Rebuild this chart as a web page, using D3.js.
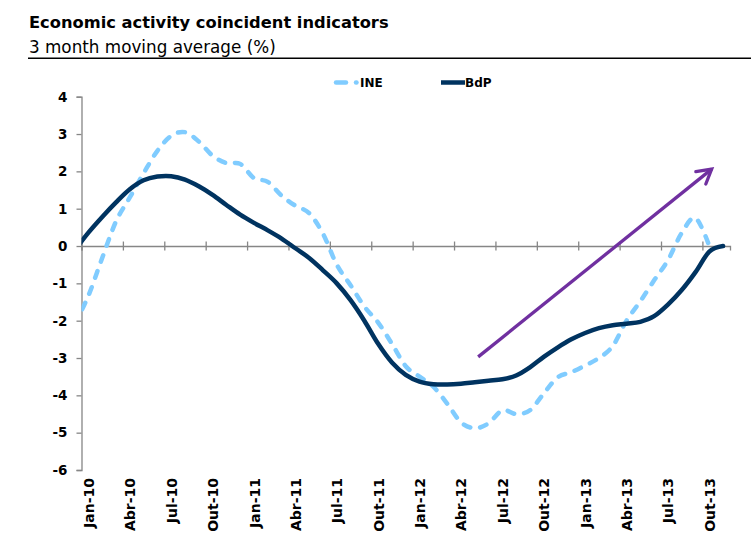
<!DOCTYPE html>
<html>
<head>
<meta charset="utf-8">
<script src="https://cdn.jsdelivr.net/npm/d3@7"></script>
<style>
  body { margin: 0; background: #fff; }
  svg { display: block; font-family: "DejaVu Sans", Verdana, sans-serif; }
</style>
</head>
<body>
<svg id="chart" width="751" height="534"></svg>
<script>
// months Dez-09 .. Nov-13 (Dez-09 only shows as the clipped start of the lines)
const monthNames = ["Jan", "Fev", "Mar", "Abr", "Mai", "Jun", "Jul", "Ago", "Set", "Out", "Nov", "Dez"];
const months = ["Dez-09"];
[10, 11, 12, 13].forEach(yr => monthNames.forEach((m, i) => {
  if (yr === 13 && i > 10) return;
  months.push(m + "-" + yr);
}));

const ine = [
  -2.1,
  -1.33, -0.32, 0.66, 1.3, 1.95, 2.55, 2.95, 3.05, 2.8, 2.42, 2.22, 2.2,
  1.82, 1.72, 1.35, 1.08, 0.88, 0.33, -0.5, -1.05, -1.62, -2.05, -2.62, -3.22,
  -3.5, -3.77, -4.22, -4.72, -4.88, -4.75, -4.4, -4.5, -4.4, -3.95, -3.52, -3.38,
  -3.2, -3.0, -2.68, -2.0, -1.48, -0.92, -0.38, 0.35, 0.75, 0.0, null
];
const bdp = [
  -0.12,
  0.36, 0.78, 1.17, 1.52, 1.76, 1.86, 1.87, 1.78, 1.6, 1.37, 1.1, 0.84,
  0.62, 0.42, 0.2, -0.06, -0.32, -0.65, -1.0, -1.45, -2.0, -2.62, -3.12, -3.45,
  -3.63, -3.7, -3.71, -3.69, -3.65, -3.61, -3.57, -3.47, -3.25, -2.97, -2.72, -2.5,
  -2.33, -2.2, -2.12, -2.08, -2.03, -1.88, -1.57, -1.18, -0.7, -0.15, 0.0
];
const yTicks = [4, 3, 2, 1, 0, -1, -2, -3, -4, -5, -6];
const labelIdx = d3.range(1, 47, 3);          // Jan-10, Abr-10, ... Out-13
const tickIdx = d3.range(0.5, 46, 3);         // category boundaries every quarter
// trend arrow, in (month index, value)
const arrowFrom = [29.25, -2.97];
const arrowTo = [46.17, 2.06];

const svg = d3.select("#chart");
const m = { left: 81.5, right: 730, top: 96.7, bottom: 470 };

const x = d3.scaleLinear().domain([0.5, 47.5]).range([m.left, m.right]);
const y = d3.scaleLinear().domain([-6, 4]).range([m.bottom, m.top]);

// title
svg.append("text")
  .attr("x", 29).attr("y", 28)
  .attr("font-size", 16.3).attr("font-weight", "bold")
  .text("Economic activity coincident indicators");
svg.append("text")
  .attr("x", 29).attr("y", 53)
  .attr("font-size", 16.8)
  .text("3 month moving average (%)");
svg.append("line")
  .attr("x1", 28).attr("x2", 751).attr("y1", 58.3).attr("y2", 58.3)
  .attr("stroke", "#000").attr("stroke-width", 1.6);

// y axis
const gy = svg.append("g")
  .attr("transform", `translate(${m.left},0)`)
  .call(d3.axisLeft(y).tickValues(yTicks).tickSize(5).tickPadding(9).tickFormat(d => String(d)));
gy.select(".domain").attr("stroke", "#868686").attr("stroke-width", 1.3);
gy.selectAll(".tick line").attr("stroke", "#868686").attr("stroke-width", 1.3);
gy.selectAll(".tick text")
  .attr("font-family", "DejaVu Sans, sans-serif")
  .attr("font-size", 13.5).attr("font-weight", "bold").attr("fill", "#000");

// x axis at zero, cross ticks
const gx = svg.append("g")
  .attr("transform", `translate(0,${y(0)})`)
  .call(d3.axisBottom(x).tickValues(tickIdx).tickSizeOuter(0).tickSize(4.5).tickFormat(""));
gx.select(".domain").attr("stroke", "#868686").attr("stroke-width", 1.3);
gx.selectAll(".tick line").attr("y1", -4.5).attr("stroke", "#868686").attr("stroke-width", 1.3);

// x labels along the bottom
const gl = svg.append("g")
  .attr("transform", `translate(0,${m.bottom})`)
  .call(d3.axisBottom(x).tickValues(labelIdx).tickSize(0).tickFormat(i => months[i]));
gl.select(".domain").remove();
gl.selectAll(".tick text")
  .attr("transform", "rotate(-90)")
  .attr("x", -8).attr("y", 0).attr("dy", "0.36em")
  .attr("text-anchor", "end")
  .attr("font-family", "DejaVu Sans, sans-serif")
  .attr("font-size", 14).attr("font-weight", "bold").attr("fill", "#000");

// lines
svg.append("clipPath").attr("id", "plot")
  .append("rect").attr("x", m.left).attr("y", m.top - 10)
  .attr("width", m.right - m.left + 10).attr("height", m.bottom - m.top + 20);

const line = d3.line()
  .defined(d => d != null)
  .x((d, i) => x(i))
  .y(d => y(d))
  .curve(d3.curveCardinal);

const lines = svg.append("g").attr("clip-path", "url(#plot)");
lines.append("path")
  .datum(ine)
  .attr("fill", "none")
  .attr("stroke", "#80CCFF")
  .attr("stroke-width", 4.5)
  .attr("stroke-linecap", "round")
  .attr("stroke-dasharray", "7,10")
  .attr("d", line);
lines.append("path")
  .datum(bdp)
  .attr("fill", "none")
  .attr("stroke", "#003360")
  .attr("stroke-width", 4.5)
  .attr("stroke-linecap", "round")
  .attr("d", line);

// arrow
const ax1 = x(arrowFrom[0]), ay1 = y(arrowFrom[1]);
const ax2 = x(arrowTo[0]), ay2 = y(arrowTo[1]);
const ang = Math.atan2(ay2 - ay1, ax2 - ax1);
const head = 16, spread = 0.52;
svg.append("line")
  .attr("x1", ax1).attr("y1", ay1).attr("x2", ax2).attr("y2", ay2)
  .attr("stroke", "#7030A0").attr("stroke-width", 3.3);
svg.append("path")
  .attr("d", `M${ax2 - head * Math.cos(ang - spread)},${ay2 - head * Math.sin(ang - spread)}` +
    `L${ax2},${ay2}` +
    `L${ax2 - head * Math.cos(ang + spread)},${ay2 - head * Math.sin(ang + spread)}`)
  .attr("fill", "none").attr("stroke", "#7030A0").attr("stroke-width", 3.3)
  .attr("stroke-linecap", "round").attr("stroke-linejoin", "miter");

// legend
const legend = svg.append("g").attr("font-size", 12).attr("font-weight", "bold");
legend.append("line")
  .attr("x1", 336).attr("x2", 346).attr("y1", 82.5).attr("y2", 82.5)
  .attr("stroke", "#80CCFF").attr("stroke-width", 4.5).attr("stroke-linecap", "round");
legend.append("line")
  .attr("x1", 356).attr("x2", 356.5).attr("y1", 82.5).attr("y2", 82.5)
  .attr("stroke", "#80CCFF").attr("stroke-width", 4.5).attr("stroke-linecap", "round");
legend.append("text").attr("x", 360).attr("y", 87).text("INE");
legend.append("line")
  .attr("x1", 441).attr("x2", 465).attr("y1", 82.5).attr("y2", 82.5)
  .attr("stroke", "#003360").attr("stroke-width", 4.5);
legend.append("text").attr("x", 465).attr("y", 87).text("BdP");
</script>
</body>
</html>
